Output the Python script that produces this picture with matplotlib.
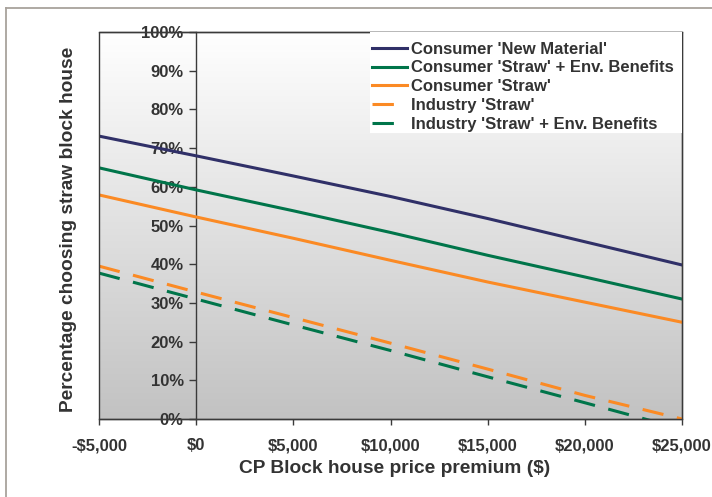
import matplotlib
matplotlib.use("Agg")
import matplotlib.pyplot as plt
import numpy as np
from matplotlib.patches import Rectangle
from matplotlib.lines import Line2D
from matplotlib.ticker import FuncFormatter, MultipleLocator

# ---- data ----
premium = [-5000, 0, 5000, 10000, 15000, 20000, 25000]
consumer_new_material = [73.1, 68.0, 62.8, 57.5, 51.8, 45.8, 39.8]
consumer_straw_env = [64.9, 59.2, 53.8, 48.2, 42.3, 36.7, 31.0]
consumer_straw = [57.9, 52.2, 46.7, 41.0, 35.4, 30.2, 25.0]
industry_straw = [39.5, 32.8, 26.2, 19.6, 12.9, 6.1, 0.0]
industry_straw_env = [37.7, 31.0, 24.3, 17.7, 10.9, 4.2, -2.6]

series_labels = ["Consumer 'New Material'", "Consumer 'Straw' + Env. Benefits",
                 "Consumer 'Straw'", "Industry 'Straw'", "Industry 'Straw' + Env. Benefits"]
x_label = "CP Block house price premium ($)"
y_label = "Percentage choosing straw block house"

NAVY = "#303068"
GREEN = "#00754a"
ORANGE = "#fb8a24"
TEXT = "#333333"

plt.rcParams['font.family'] = ['Liberation Sans', 'DejaVu Sans']

fig = plt.figure(figsize=(7.12, 4.97), dpi=100)
fig.patch.set_facecolor("white")
ax = fig.add_axes([99/712, 1-419/497, 583/712, 387/497])

xmin, xmax = -5000, 25000
ax.set_xlim(xmin, xmax)
ax.set_ylim(0, 100)

# gradient background
grad = np.linspace(0, 1, 256).reshape(-1, 1)
ax.imshow(grad, extent=[0, 1, 0, 1], transform=ax.transAxes, aspect='auto',
          cmap=matplotlib.colors.LinearSegmentedColormap.from_list("g", ["#ffffff", "#c2c2c2"]),
          zorder=0, origin='upper')

lw = 2.2
dash = (0, (7, 4.5))
ax.plot(premium, consumer_new_material, color=NAVY, lw=lw, label=series_labels[0], zorder=3)
ax.plot(premium, consumer_straw_env, color=GREEN, lw=lw, label=series_labels[1], zorder=3)
ax.plot(premium, consumer_straw, color=ORANGE, lw=lw, label=series_labels[2], zorder=3)
ax.plot(premium, industry_straw, color=ORANGE, lw=lw, ls=dash, label=series_labels[3], zorder=3)
ax.plot(premium, industry_straw_env, color=GREEN, lw=lw, ls=dash, label=series_labels[4], zorder=3)

# spines: y axis crosses at x = 0
for s in ['top', 'right', 'bottom']:
    ax.spines[s].set_color("#3a3a3a")
    ax.spines[s].set_linewidth(1.0)
ax.spines['right'].set_color("#707070")
ax.spines['left'].set_position(('data', 0))
ax.spines['left'].set_color("#3a3a3a")
ax.spines['left'].set_linewidth(1.0)
ax.add_patch(Rectangle((0, 0), 1, 1, transform=ax.transAxes, fill=False,
                       edgecolor="#3a3a3a", lw=1.0, zorder=4, clip_on=False))

ax.xaxis.set_major_locator(MultipleLocator(5000))
ax.yaxis.set_major_locator(MultipleLocator(10))
ax.xaxis.set_major_formatter(FuncFormatter(lambda v, p: ("-$" if v < 0 else "$") + f"{abs(int(v)):,}"))
ax.yaxis.set_major_formatter(FuncFormatter(lambda v, p: f"{int(round(v))}%"))
ax.tick_params(axis='x', direction='out', length=4, width=1, color="#3a3a3a", pad=10,
               labelsize=12, labelcolor=TEXT)
ax.tick_params(axis='y', direction='out', length=5, width=1, color="#3a3a3a", pad=4,
               labelsize=12, labelcolor=TEXT)
for t in ax.get_xticklabels() + ax.get_yticklabels():
    t.set_fontweight('bold')

ax.set_xlabel(x_label, fontsize=13.8, fontweight='bold', color=TEXT)
ax.set_ylabel(y_label, fontsize=13.8, fontweight='bold', color=TEXT)
ax.xaxis.set_label_coords(0.507, -0.105)
ax.yaxis.set_label_coords(-0.038, 0.49)

# legend with white box
ax.add_patch(Rectangle(((370-99)/583, (419-133)/387), 1-(370-99)/583, 1-(419-133)/387,
                       transform=ax.transAxes, facecolor="white", edgecolor="none", zorder=5))
leg = ax.legend(loc='upper left', bbox_to_anchor=((366-99)/583, 0.99), frameon=False,
                prop={'weight': 'bold', 'size': 12}, handlelength=2.1, handletextpad=0.25,
                labelspacing=0.225, borderaxespad=0.2, borderpad=0.15)
leg.set_zorder(6)
for t in leg.get_texts():
    t.set_color(TEXT)
for h in leg.legend_handles[3:]:
    h.set_linestyle((0, (7, 12)))

# outer frame
fig.add_artist(Line2D([6/712, 1.0], [1-8/497, 1-8/497], transform=fig.transFigure,
                      color="#a8a29c", lw=1.3))
fig.add_artist(Line2D([6/712, 6/712], [0, 1-8/497], transform=fig.transFigure,
                      color="#a8a29c", lw=1.3))

fig.savefig("out.png", dpi=100, facecolor="white")
